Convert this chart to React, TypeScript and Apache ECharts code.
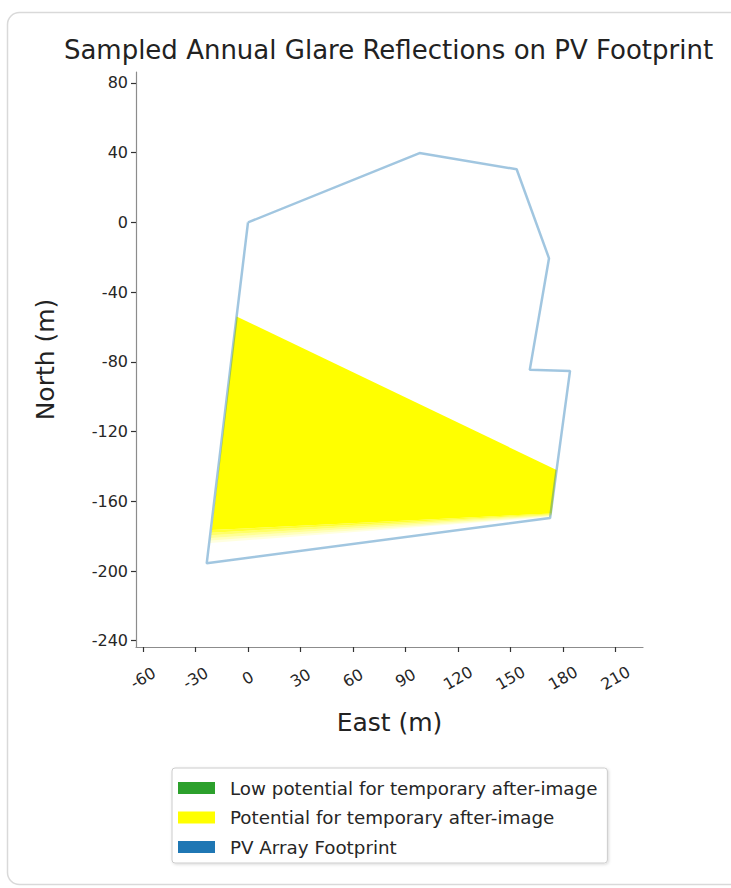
import React, { useEffect, useRef } from "react";
import * as echarts from "echarts";

const xTicks = [-60, -30, 0, 30, 60, 90, 120, 150, 180, 210];
const yTicks = [80, 40, 0, -40, -80, -120, -160, -200, -240];

// PV array footprint outline (East, North) in metres
const footprintEast = [0, 98, 153.5, 172, 161, 184, 172.6, -23.6, 0];
const footprintNorth = [0, 39.8, 30.5, -20.6, -84.6, -85.2, -169.6, -195.6, 0];

// Glare reflection zone (potential for temporary after-image)
const glareEast = [-6.5, 176.3, 173.5, -20.6];
const glareNorth = [-54, -142, -167, -176.5];

// soft lower fringe of the sampled glare fan: boundary lines, top to bottom
const fringeLeftEast = [-20.6, -20.8, -21.0, -21.2, -21.5, -21.8];
const fringeLeftNorth = [-176.5, -178, -179.5, -181, -182.5, -184];
const fringeRightEast = [173.5, 173.4, 173.3, 173.2, 173.1, 173.0];
const fringeRightNorth = [-167, -167.4, -167.8, -168.2, -168.6, -169];
const fringeOpacity = [0.8, 0.6, 0.42, 0.26, 0.12];

const lowPotentialEast: number[] = [];
const lowPotentialNorth: number[] = [];

const zip = (a: number[], b: number[]) => a.map((v, i) => [v, b[i]]);

const FONT = "DejaVu Sans";

function polygonSeries(name: string, pts: number[][], fill: string, opacity: number, z: number) {
  return {
    type: "custom",
    name,
    z,
    data: pts,
    itemStyle: { color: fill },
    renderItem: (params: any, api: any) => {
      if (params.dataIndex !== 0) return null;
      const points = pts.map((p) => api.coord(p));
      return {
        type: "polygon",
        shape: { points },
        style: { fill, opacity, stroke: null },
      };
    },
  };
}

export default function App() {
  const ref = useRef<HTMLDivElement>(null);
  useEffect(() => {
    if (!ref.current) return;
    const chart = echarts.init(ref.current, null, { renderer: "svg" });
    const footprint = zip(footprintEast, footprintNorth);
    const glare = zip(glareEast, glareNorth);
    const POT = "Potential for temporary after-image";
    const LOW = "Low potential for temporary after-image";
    const PV = "PV Array Footprint";
    const fringeSeries = fringeOpacity.map((op, i) =>
      polygonSeries(
        POT,
        [
          [fringeLeftEast[i], fringeLeftNorth[i]],
          [fringeRightEast[i], fringeRightNorth[i]],
          [fringeRightEast[i + 1], fringeRightNorth[i + 1]],
          [fringeLeftEast[i + 1], fringeLeftNorth[i + 1]],
        ],
        "#ffff00",
        op,
        2
      )
    );
    chart.setOption({
      animation: false,
      backgroundColor: "#fff",
      graphic: [
        {
          type: "rect",
          z: -10,
          shape: { x: 7.5, y: 12.5, width: 760, height: 872, r: 12 },
          style: { fill: "#fff", stroke: "#d9d9d9", lineWidth: 1.5 },
          silent: true,
        },
      ],
      title: {
        text: "Sampled Annual Glare Reflections on PV Footprint",
        left: 388.5,
        textAlign: "center",
        top: 37,
        padding: 0,
        textStyle: { fontFamily: FONT, fontSize: 26, fontWeight: "normal", color: "#222" },
      },
      legend: {
        orient: "vertical",
        left: 172,
        top: 768,
        padding: [11, 10, 7, 6],
        itemWidth: 37,
        itemHeight: 12,
        itemGap: 11.5,
        borderColor: "#cccccc",
        borderWidth: 1,
        borderRadius: 3,
        backgroundColor: "#fff",
        shadowBlur: 3,
        shadowColor: "rgba(0,0,0,0.15)",
        shadowOffsetX: 1,
        shadowOffsetY: 1,
        selectedMode: false,
        textStyle: {
          fontFamily: FONT,
          fontSize: 18.3,
          color: "#262626",
          padding: [0, 0, 0, 10],
        },
        data: [
          { name: LOW, icon: "rect", itemStyle: { color: "#2ca02c" } },
          { name: POT, icon: "rect", itemStyle: { color: "#ffff00" } },
          { name: PV, icon: "rect", itemStyle: { color: "#1f77b4", opacity: 1 } },
        ],
      },
      grid: {
        left: 136,
        top: 72,
        right: 88,
        bottom: 241,
        containLabel: false,
        outerBoundsMode: "none",
      },
      xAxis: {
        type: "value",
        min: -64,
        max: 225.7,
        name: "East (m)",
        nameLocation: "middle",
        nameGap: 63,
        nameTextStyle: { fontFamily: FONT, fontSize: 25, color: "#222" },
        splitLine: { show: false },
        axisLine: { show: true, onZero: false, lineStyle: { color: "#8c8c8c", width: 1.2 } },
        axisTick: {
          show: true,
          length: 5,
          customValues: xTicks,
          lineStyle: { color: "#333", width: 1.2 },
        },
        axisLabel: {
          customValues: xTicks,
          rotate: 30,
          align: "center",
          verticalAlign: "middle",
          margin: 31,
          fontFamily: FONT,
          fontSize: 16,
          color: "#262626",
          formatter: (v: number) => String(v),
        },
      },
      yAxis: {
        type: "value",
        min: -243.6,
        max: 86.3,
        name: "North (m)",
        nameLocation: "middle",
        nameGap: 78,
        nameTextStyle: { fontFamily: FONT, fontSize: 25, color: "#222" },
        splitLine: { show: false },
        axisLine: { show: true, onZero: false, lineStyle: { color: "#8c8c8c", width: 1.2 } },
        axisTick: {
          show: true,
          length: 5,
          customValues: yTicks,
          lineStyle: { color: "#333", width: 1.2 },
        },
        axisLabel: {
          customValues: yTicks,
          margin: 8,
          fontFamily: FONT,
          fontSize: 16,
          color: "#262626",
          formatter: (v: number) => String(v),
        },
      },
      series: [
        {
          type: "custom",
          name: LOW,
          data: zip(lowPotentialEast, lowPotentialNorth),
          itemStyle: { color: "#2ca02c" },
          renderItem: () => null,
        },
        polygonSeries(POT, glare, "#ffff00", 1, 2),
        ...fringeSeries,
        {
          type: "line",
          name: PV,
          z: 5,
          data: footprint,
          symbol: "none",
          itemStyle: { color: "#1f77b4" },
          lineStyle: { color: "rgba(31,119,180,0.42)", width: 2.5 },
        },
      ],
    });
    return () => chart.dispose();
  }, []);
  return (
    <div
      ref={ref}
      style={{ position: "fixed", left: 0, top: 0, width: 731, height: 888 }}
    />
  );
}
